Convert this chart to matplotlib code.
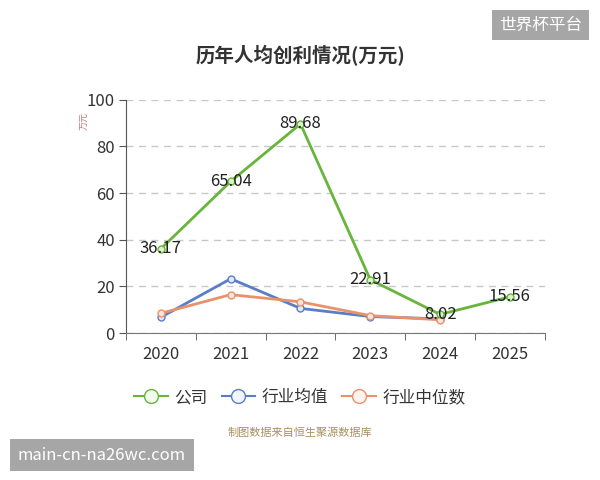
import numpy as np
import matplotlib
matplotlib.use('Agg')
import matplotlib.pyplot as plt
from matplotlib.lines import Line2D

plt.rcParams['font.family'] = ['Noto Sans CJK SC', 'DejaVu Sans']

years = ['2020', '2021', '2022', '2023', '2024', '2025']
company = [36.17, 65.04, 89.68, 22.91, 8.02, 15.56]
industry_avg = [6.8, 23.3, 10.6, 7.1, 6.1]
industry_median = [8.5, 16.5, 13.4, 7.5, 5.7]

GREEN = '#67b53a'
BLUE = '#5a7ec6'
ORANGE = '#e8926c'

fig = plt.figure(figsize=(6.0, 4.8), dpi=100)
ax = fig.add_axes([0.21, 0.306, 0.698, 0.486])

x = np.arange(len(years))


def draw(vals, color, face, z):
    xs = x[:len(vals)]
    ax.plot(xs, vals, color=color, lw=2, zorder=z,
            marker='o', markersize=5, markerfacecolor=face,
            markeredgecolor=color, markeredgewidth=1.0)


draw(industry_avg, BLUE, '#dfe8f8', 3)
draw(industry_median, ORANGE, '#fbe3d8', 4)
draw(company, GREEN, '#dcf2cc', 5)

for xi, v in zip(x, company):
    ax.text(xi, v, f'{v:.2f}', ha='center', va='center', fontsize=12,
            color='#222222', zorder=6)

ax.set_xlim(-0.5, len(years) - 0.5)
ax.set_ylim(0, 100)
ax.set_yticks(np.arange(0, 101, 20))
ax.yaxis.grid(True, linestyle=(0, (5, 4)), color='#c8c8c8', lw=1)
ax.set_axisbelow(True)

ax.set_xticks(x)
ax.set_xticklabels(years)
ax.set_xticks(np.arange(-0.5, len(years), 1), minor=True)
ax.tick_params(axis='x', which='major', length=0, pad=9, labelsize=12,
               labelcolor='#333333')
ax.tick_params(axis='x', which='minor', length=5, color='#555555')
ax.tick_params(axis='y', length=5, color='#555555', labelsize=12,
               labelcolor='#333333', pad=3)

for s in ['top', 'right']:
    ax.spines[s].set_visible(False)
ax.spines['left'].set_color('#555555')
ax.spines['bottom'].set_color('#777777')

fig.text(0.1425, 0.748, '万元', rotation=90, fontsize=6.5, color='#c87575',
         ha='center', va='center')

fig.text(0.5, 0.885, '历年人均创利情况(万元)', ha='center', va='center',
         fontsize=14, fontweight='bold', color='#333333')

handles = [
    Line2D([], [], color=GREEN, lw=1.5, marker='o', markersize=10,
           markerfacecolor='#f3fbee', markeredgecolor=GREEN, label='公司'),
    Line2D([], [], color=BLUE, lw=1.5, marker='o', markersize=10,
           markerfacecolor='#f1f5fc', markeredgecolor=BLUE, label='行业均值'),
    Line2D([], [], color=ORANGE, lw=1.5, marker='o', markersize=10,
           markerfacecolor='#fdf3ee', markeredgecolor=ORANGE, label='行业中位数'),
]
fig.legend(handles=handles, loc='center', bbox_to_anchor=(0.5, 0.172),
           ncol=3, frameon=False, fontsize=12, handlelength=2.0,
           columnspacing=0.85, handletextpad=0.4, labelcolor='#333333')

fig.text(0.5, 0.098, '制图数据来自恒生聚源数据库', ha='center', va='center',
         fontsize=8, color='#a8905e')

fig.text(0.901, 0.948, '世界杯平台', ha='center', va='center', fontsize=12,
         color='white',
         bbox=dict(boxstyle='square,pad=0.4', facecolor='#a6a6a6',
                   edgecolor='none'))
fig.text(0.17, 0.052, 'main-cn-na26wc.com', ha='center', va='center',
         fontsize=12, color='white',
         bbox=dict(boxstyle='square,pad=0.45', facecolor='#a6a6a6',
                   edgecolor='none'))

fig.savefig('out.png', dpi=100)
